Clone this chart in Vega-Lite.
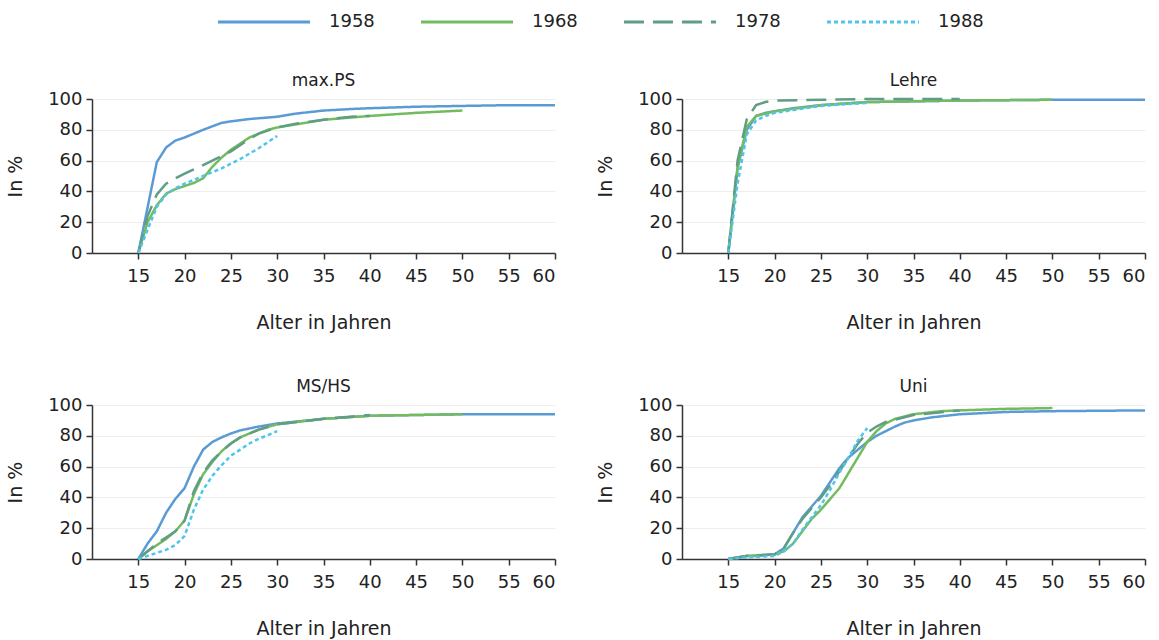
{
"$schema": "https://vega.github.io/schema/vega-lite/v6.json",
"background": "white",
"padding": {"left": 6, "top": 11, "right": 5, "bottom": 5},
"datasets": {"d": [
{"t":"max.PS","c":"1958","a":15,"v":0},{"t":"max.PS","c":"1958","a":17,"v":59},{"t":"max.PS","c":"1958","a":18,"v":68.5},{"t":"max.PS","c":"1958","a":19,"v":73},{"t":"max.PS","c":"1958","a":20,"v":75},{"t":"max.PS","c":"1958","a":22,"v":80},{"t":"max.PS","c":"1958","a":24,"v":84.5},{"t":"max.PS","c":"1958","a":25,"v":85.5},{"t":"max.PS","c":"1958","a":27,"v":87},{"t":"max.PS","c":"1958","a":30,"v":88.5},{"t":"max.PS","c":"1958","a":32,"v":90.5},{"t":"max.PS","c":"1958","a":35,"v":92.5},{"t":"max.PS","c":"1958","a":38,"v":93.5},{"t":"max.PS","c":"1958","a":40,"v":94},{"t":"max.PS","c":"1958","a":45,"v":95},{"t":"max.PS","c":"1958","a":50,"v":95.5},{"t":"max.PS","c":"1958","a":55,"v":96},{"t":"max.PS","c":"1958","a":60,"v":96},
{"t":"max.PS","c":"1968","a":15,"v":0},{"t":"max.PS","c":"1968","a":16,"v":20},{"t":"max.PS","c":"1968","a":17,"v":31},{"t":"max.PS","c":"1968","a":18,"v":38.5},{"t":"max.PS","c":"1968","a":19,"v":41.5},{"t":"max.PS","c":"1968","a":20,"v":43.5},{"t":"max.PS","c":"1968","a":21,"v":45.5},{"t":"max.PS","c":"1968","a":22,"v":48.5},{"t":"max.PS","c":"1968","a":23,"v":56},{"t":"max.PS","c":"1968","a":24,"v":62},{"t":"max.PS","c":"1968","a":25,"v":67},{"t":"max.PS","c":"1968","a":26,"v":71},{"t":"max.PS","c":"1968","a":27,"v":75},{"t":"max.PS","c":"1968","a":28,"v":77.5},{"t":"max.PS","c":"1968","a":29,"v":80},{"t":"max.PS","c":"1968","a":30,"v":81.5},{"t":"max.PS","c":"1968","a":32,"v":83.5},{"t":"max.PS","c":"1968","a":35,"v":86.5},{"t":"max.PS","c":"1968","a":40,"v":89},{"t":"max.PS","c":"1968","a":45,"v":91},{"t":"max.PS","c":"1968","a":50,"v":92.5},
{"t":"max.PS","c":"1978","a":15,"v":0},{"t":"max.PS","c":"1978","a":16,"v":24},{"t":"max.PS","c":"1978","a":17,"v":38},{"t":"max.PS","c":"1978","a":18,"v":45},{"t":"max.PS","c":"1978","a":19,"v":48.5},{"t":"max.PS","c":"1978","a":20,"v":51.5},{"t":"max.PS","c":"1978","a":22,"v":57},{"t":"max.PS","c":"1978","a":24,"v":63},{"t":"max.PS","c":"1978","a":25,"v":66},{"t":"max.PS","c":"1978","a":26,"v":70},{"t":"max.PS","c":"1978","a":27,"v":74},{"t":"max.PS","c":"1978","a":28,"v":77.5},{"t":"max.PS","c":"1978","a":30,"v":81.5},{"t":"max.PS","c":"1978","a":32,"v":84},{"t":"max.PS","c":"1978","a":35,"v":86.5},{"t":"max.PS","c":"1978","a":38,"v":88.5},{"t":"max.PS","c":"1978","a":40,"v":89},
{"t":"max.PS","c":"1988","a":15,"v":0},{"t":"max.PS","c":"1988","a":16,"v":15},{"t":"max.PS","c":"1988","a":17,"v":30},{"t":"max.PS","c":"1988","a":18,"v":38},{"t":"max.PS","c":"1988","a":19,"v":42},{"t":"max.PS","c":"1988","a":20,"v":45},{"t":"max.PS","c":"1988","a":22,"v":50},{"t":"max.PS","c":"1988","a":24,"v":55},{"t":"max.PS","c":"1988","a":26,"v":61},{"t":"max.PS","c":"1988","a":28,"v":68},{"t":"max.PS","c":"1988","a":30,"v":76},
{"t":"Lehre","c":"1958","a":15,"v":0},{"t":"Lehre","c":"1958","a":16,"v":55},{"t":"Lehre","c":"1958","a":17,"v":80},{"t":"Lehre","c":"1958","a":18,"v":89},{"t":"Lehre","c":"1958","a":19,"v":91},{"t":"Lehre","c":"1958","a":20,"v":92},{"t":"Lehre","c":"1958","a":22,"v":94},{"t":"Lehre","c":"1958","a":25,"v":96},{"t":"Lehre","c":"1958","a":30,"v":98},{"t":"Lehre","c":"1958","a":35,"v":98.5},{"t":"Lehre","c":"1958","a":40,"v":99},{"t":"Lehre","c":"1958","a":50,"v":99.5},{"t":"Lehre","c":"1958","a":60,"v":99.5},
{"t":"Lehre","c":"1968","a":15,"v":0},{"t":"Lehre","c":"1968","a":16,"v":56},{"t":"Lehre","c":"1968","a":17,"v":82},{"t":"Lehre","c":"1968","a":18,"v":89},{"t":"Lehre","c":"1968","a":20,"v":92},{"t":"Lehre","c":"1968","a":25,"v":96},{"t":"Lehre","c":"1968","a":30,"v":98},{"t":"Lehre","c":"1968","a":40,"v":99},{"t":"Lehre","c":"1968","a":50,"v":99.5},
{"t":"Lehre","c":"1978","a":15,"v":0},{"t":"Lehre","c":"1978","a":16,"v":60},{"t":"Lehre","c":"1978","a":17,"v":87},{"t":"Lehre","c":"1978","a":18,"v":96},{"t":"Lehre","c":"1978","a":19,"v":98},{"t":"Lehre","c":"1978","a":20,"v":99},{"t":"Lehre","c":"1978","a":25,"v":99.5},{"t":"Lehre","c":"1978","a":30,"v":100},{"t":"Lehre","c":"1978","a":40,"v":100},
{"t":"Lehre","c":"1988","a":15,"v":0},{"t":"Lehre","c":"1988","a":16,"v":45},{"t":"Lehre","c":"1988","a":17,"v":77},{"t":"Lehre","c":"1988","a":18,"v":86},{"t":"Lehre","c":"1988","a":19,"v":89},{"t":"Lehre","c":"1988","a":20,"v":91},{"t":"Lehre","c":"1988","a":25,"v":95.5},{"t":"Lehre","c":"1988","a":30,"v":97.5},
{"t":"MS/HS","c":"1958","a":15,"v":0},{"t":"MS/HS","c":"1958","a":16,"v":10},{"t":"MS/HS","c":"1958","a":17,"v":18},{"t":"MS/HS","c":"1958","a":18,"v":30},{"t":"MS/HS","c":"1958","a":19,"v":39},{"t":"MS/HS","c":"1958","a":20,"v":46},{"t":"MS/HS","c":"1958","a":21,"v":60},{"t":"MS/HS","c":"1958","a":22,"v":71},{"t":"MS/HS","c":"1958","a":23,"v":76},{"t":"MS/HS","c":"1958","a":24,"v":79},{"t":"MS/HS","c":"1958","a":25,"v":81.5},{"t":"MS/HS","c":"1958","a":26,"v":83.5},{"t":"MS/HS","c":"1958","a":28,"v":86},{"t":"MS/HS","c":"1958","a":30,"v":88},{"t":"MS/HS","c":"1958","a":35,"v":91},{"t":"MS/HS","c":"1958","a":40,"v":93},{"t":"MS/HS","c":"1958","a":45,"v":93.5},{"t":"MS/HS","c":"1958","a":50,"v":94},{"t":"MS/HS","c":"1958","a":60,"v":94},
{"t":"MS/HS","c":"1968","a":15,"v":0},{"t":"MS/HS","c":"1968","a":16,"v":5},{"t":"MS/HS","c":"1968","a":17,"v":9},{"t":"MS/HS","c":"1968","a":18,"v":13},{"t":"MS/HS","c":"1968","a":19,"v":18},{"t":"MS/HS","c":"1968","a":20,"v":25},{"t":"MS/HS","c":"1968","a":21,"v":42},{"t":"MS/HS","c":"1968","a":22,"v":55},{"t":"MS/HS","c":"1968","a":23,"v":63},{"t":"MS/HS","c":"1968","a":24,"v":70},{"t":"MS/HS","c":"1968","a":25,"v":75},{"t":"MS/HS","c":"1968","a":26,"v":79},{"t":"MS/HS","c":"1968","a":28,"v":84},{"t":"MS/HS","c":"1968","a":30,"v":87.5},{"t":"MS/HS","c":"1968","a":35,"v":91},{"t":"MS/HS","c":"1968","a":40,"v":93},{"t":"MS/HS","c":"1968","a":45,"v":93.5},{"t":"MS/HS","c":"1968","a":50,"v":94},
{"t":"MS/HS","c":"1978","a":15,"v":0},{"t":"MS/HS","c":"1978","a":16,"v":5},{"t":"MS/HS","c":"1978","a":17,"v":10},{"t":"MS/HS","c":"1978","a":18,"v":14},{"t":"MS/HS","c":"1978","a":19,"v":18},{"t":"MS/HS","c":"1978","a":20,"v":25},{"t":"MS/HS","c":"1978","a":21,"v":44},{"t":"MS/HS","c":"1978","a":22,"v":56},{"t":"MS/HS","c":"1978","a":23,"v":64},{"t":"MS/HS","c":"1978","a":24,"v":70},{"t":"MS/HS","c":"1978","a":25,"v":75},{"t":"MS/HS","c":"1978","a":26,"v":79},{"t":"MS/HS","c":"1978","a":28,"v":84},{"t":"MS/HS","c":"1978","a":30,"v":87.5},{"t":"MS/HS","c":"1978","a":35,"v":91},{"t":"MS/HS","c":"1978","a":40,"v":93.5},
{"t":"MS/HS","c":"1988","a":15,"v":0},{"t":"MS/HS","c":"1988","a":16,"v":2},{"t":"MS/HS","c":"1988","a":17,"v":4},{"t":"MS/HS","c":"1988","a":18,"v":6},{"t":"MS/HS","c":"1988","a":19,"v":9},{"t":"MS/HS","c":"1988","a":20,"v":15},{"t":"MS/HS","c":"1988","a":21,"v":32},{"t":"MS/HS","c":"1988","a":22,"v":45},{"t":"MS/HS","c":"1988","a":23,"v":54},{"t":"MS/HS","c":"1988","a":24,"v":61},{"t":"MS/HS","c":"1988","a":25,"v":67},{"t":"MS/HS","c":"1988","a":26,"v":71},{"t":"MS/HS","c":"1988","a":27,"v":75},{"t":"MS/HS","c":"1988","a":28,"v":78},{"t":"MS/HS","c":"1988","a":29,"v":80.5},{"t":"MS/HS","c":"1988","a":30,"v":83},
{"t":"Uni","c":"1958","a":15,"v":0},{"t":"Uni","c":"1958","a":16,"v":1},{"t":"Uni","c":"1958","a":17,"v":2},{"t":"Uni","c":"1958","a":18,"v":2},{"t":"Uni","c":"1958","a":19,"v":2.5},{"t":"Uni","c":"1958","a":20,"v":3},{"t":"Uni","c":"1958","a":21,"v":7},{"t":"Uni","c":"1958","a":22,"v":17},{"t":"Uni","c":"1958","a":23,"v":27},{"t":"Uni","c":"1958","a":24,"v":34},{"t":"Uni","c":"1958","a":25,"v":41},{"t":"Uni","c":"1958","a":26,"v":50},{"t":"Uni","c":"1958","a":27,"v":59},{"t":"Uni","c":"1958","a":28,"v":66},{"t":"Uni","c":"1958","a":29,"v":71},{"t":"Uni","c":"1958","a":30,"v":76},{"t":"Uni","c":"1958","a":31,"v":80},{"t":"Uni","c":"1958","a":32,"v":83},{"t":"Uni","c":"1958","a":33,"v":86},{"t":"Uni","c":"1958","a":34,"v":88.5},{"t":"Uni","c":"1958","a":35,"v":90},{"t":"Uni","c":"1958","a":37,"v":92},{"t":"Uni","c":"1958","a":40,"v":94},{"t":"Uni","c":"1958","a":45,"v":95.5},{"t":"Uni","c":"1958","a":50,"v":96},{"t":"Uni","c":"1958","a":60,"v":96.5},
{"t":"Uni","c":"1968","a":15,"v":0},{"t":"Uni","c":"1968","a":17,"v":2},{"t":"Uni","c":"1968","a":20,"v":3},{"t":"Uni","c":"1968","a":21,"v":5},{"t":"Uni","c":"1968","a":22,"v":10},{"t":"Uni","c":"1968","a":23,"v":18},{"t":"Uni","c":"1968","a":24,"v":26},{"t":"Uni","c":"1968","a":25,"v":32},{"t":"Uni","c":"1968","a":26,"v":39},{"t":"Uni","c":"1968","a":27,"v":46},{"t":"Uni","c":"1968","a":28,"v":56},{"t":"Uni","c":"1968","a":29,"v":66},{"t":"Uni","c":"1968","a":30,"v":76},{"t":"Uni","c":"1968","a":31,"v":83},{"t":"Uni","c":"1968","a":32,"v":88},{"t":"Uni","c":"1968","a":33,"v":91},{"t":"Uni","c":"1968","a":35,"v":94},{"t":"Uni","c":"1968","a":38,"v":96},{"t":"Uni","c":"1968","a":40,"v":96.5},{"t":"Uni","c":"1968","a":45,"v":97.5},{"t":"Uni","c":"1968","a":50,"v":98},
{"t":"Uni","c":"1978","a":15,"v":0},{"t":"Uni","c":"1978","a":17,"v":2},{"t":"Uni","c":"1978","a":20,"v":3},{"t":"Uni","c":"1978","a":21,"v":7},{"t":"Uni","c":"1978","a":22,"v":17},{"t":"Uni","c":"1978","a":23,"v":26},{"t":"Uni","c":"1978","a":24,"v":33},{"t":"Uni","c":"1978","a":25,"v":40},{"t":"Uni","c":"1978","a":26,"v":48},{"t":"Uni","c":"1978","a":27,"v":57},{"t":"Uni","c":"1978","a":28,"v":66},{"t":"Uni","c":"1978","a":29,"v":75},{"t":"Uni","c":"1978","a":30,"v":82},{"t":"Uni","c":"1978","a":31,"v":86},{"t":"Uni","c":"1978","a":32,"v":89},{"t":"Uni","c":"1978","a":35,"v":93.5},{"t":"Uni","c":"1978","a":40,"v":96.5},
{"t":"Uni","c":"1988","a":15,"v":0},{"t":"Uni","c":"1988","a":17,"v":1},{"t":"Uni","c":"1988","a":20,"v":2},{"t":"Uni","c":"1988","a":21,"v":5},{"t":"Uni","c":"1988","a":22,"v":10},{"t":"Uni","c":"1988","a":23,"v":19},{"t":"Uni","c":"1988","a":24,"v":27},{"t":"Uni","c":"1988","a":25,"v":35},{"t":"Uni","c":"1988","a":26,"v":45},{"t":"Uni","c":"1988","a":27,"v":56},{"t":"Uni","c":"1988","a":28,"v":66},{"t":"Uni","c":"1988","a":29,"v":77},{"t":"Uni","c":"1988","a":30,"v":85}
]},
"data": {"name": "d"},
"facet": {"field": "t", "type": "nominal", "sort": ["max.PS", "Lehre", "MS/HS", "Uni"], "title": null,
  "header": {"labelFont": "DejaVu Sans", "labelFontSize": 17, "labelColor": "#222", "labelPadding": 0}},
"columns": 2,
"spacing": {"column": 36, "row": 46},
"resolve": {"axis": {"x": "independent", "y": "independent"}},
"spec": {
  "width": 463, "height": 154,
  "mark": {"type": "line", "strokeWidth": 2.5},
  "encoding": {
    "x": {"field": "a", "type": "quantitative", "scale": {"domain": [10, 60], "nice": false, "zero": false},
      "axis": {"values": [15, 20, 25, 30, 35, 40, 45, 50, 55, 60], "title": "Alter in Jahren", "grid": false, "titlePadding": 28, "labelPadding": 8}},
    "y": {"field": "v", "type": "quantitative", "scale": {"domain": [0, 100], "nice": false},
      "axis": {"values": [0, 20, 40, 60, 80, 100], "title": "In %", "titlePadding": 22, "labelPadding": 4}},
    "color": {"field": "c", "type": "nominal", "title": null,
      "scale": {"domain": ["1958", "1968", "1978", "1988"], "range": ["#5b9bd5", "#72bb5f", "#5f9e85", "#4fc4ec"]},
      "legend": {"orient": "none", "legendX": 161, "legendY": -88, "direction": "horizontal"}},
    "strokeDash": {"field": "c", "type": "nominal", "title": null,
      "scale": {"domain": ["1958", "1968", "1978", "1988"], "range": [[1, 0], [1, 0], [20, 9], [4, 3]]},
      "legend": {"orient": "none", "legendX": 161, "legendY": -88, "direction": "horizontal"}}
  }
},
"config": {
  "font": "DejaVu Sans",
  "view": {"stroke": null},
  "axis": {"labelFont": "DejaVu Sans", "labelFontSize": 18, "labelColor": "#222", "titleFont": "DejaVu Sans", "titleFontSize": 19, "titleFontWeight": "normal", "titleColor": "#222",
    "domainColor": "#333", "domainWidth": 1.5, "tickColor": "#333", "tickWidth": 1.5, "tickSize": 6, "gridColor": "#eeeeee", "gridWidth": 1},
  "legend": {"symbolType": "M-5,0L5,0", "symbolSize": 339, "symbolStrokeWidth": 3, "labelFont": "DejaVu Sans", "labelFontSize": 18, "labelColor": "#222", "labelOffset": 54, "columnPadding": 39}
}
}
